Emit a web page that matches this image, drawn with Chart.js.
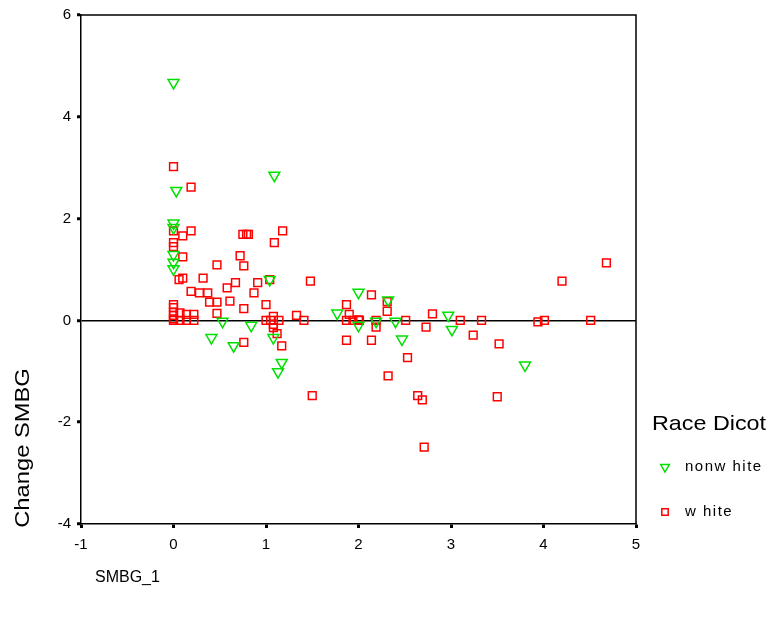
<!DOCTYPE html>
<html>
<head>
<meta charset="utf-8">
<script src="https://cdn.jsdelivr.net/npm/chart.js@4.4.1/dist/chart.umd.min.js"></script>
<style>
  html, body { margin: 0; padding: 0; background: #fff; }
  #wrap { width: 771px; height: 618px; }
</style>
</head>
<body>
<div id="wrap"><canvas id="chart" width="771" height="618"></canvas></div>
<script>
// values
const xTicks = [-1, 0, 1, 2, 3, 4, 5];
const yTicks = [-4, -2, 0, 2, 4, 6];

const nonwhiteX = [0, 0.03, 1.09, 0, 0, 0, 0, 0, 1.04, 0.53, 0.84, 0.41, 1.08, 0.65, 1.17, 1.13,
                   2.0, 2.32, 1.77, 2.0, 2.19, 2.4, 2.47, 2.97, 3.01, 3.8];
const nonwhiteY = [4.67, 2.55, 2.85, 1.91, 1.82, 1.29, 1.14, 1.01, 0.8, -0.02, -0.1, -0.34, -0.34, -0.5, -0.83, -1.01,
                   0.55, 0.4, 0.14, -0.1, -0.02, -0.02, -0.37, 0.1, -0.18, -0.88];

const whiteX = [0, 0, 0, 0, 0, 0, 0, 0, 0, 0, 0.07, 0.07, 0.14, 0.14, 0.22, 0.22,
                0.19, 0.1, 0.19, 0.75, 0.79, 0.81, 1.18, 1.09, 0.1, 0.72, 0.47, 0.76, 0.06, 0.1, 0.32,
                1.04, 1.48, 0.67, 0.91, 0.58, 0.19, 0.28, 0.37, 0.87, 0.39, 0.47, 0.61, 1.0, 0.76, 0.47,
                1.0, 1.05, 1.08, 1.14, 1.08, 1.08, 1.33, 1.41, 1.12, 0.76, 1.17, 1.5,
                2.14, 1.87, 2.31, 2.31, 1.9, 1.87, 1.94, 2.0, 2.01, 2.19, 2.19, 2.51, 1.87, 2.14, 2.53,
                2.32, 2.8, 2.73, 3.1, 3.33, 3.24, 3.52, 2.64, 2.69, 3.5, 4.68, 4.2, 4.51, 3.94, 4.01, 2.71];
const whiteY = [3.02, 1.76, 1.53, 1.45, 0.31, 0.25, 0.16, 0.1, 0.03, 0, 0.15, 0, 0.12, 0, 0.12, 0,
                2.62, 1.66, 1.76, 1.69, 1.69, 1.69, 1.76, 1.53, 1.25, 1.27, 1.09, 1.07, 0.8, 0.83, 0.83,
                0.8, 0.77, 0.74, 0.74, 0.64, 0.57, 0.54, 0.54, 0.54, 0.36, 0.36, 0.38, 0.31, 0.23, 0.14,
                0, 0, 0.08, 0, -0.08, -0.14, 0.1, 0, -0.26, -0.43, -0.5, -1.48,
                0.5, 0.31, 0.37, 0.18, 0.12, 0, 0, 0.01, 0, 0, -0.13, 0, -0.39, -0.39, -0.73,
                -1.09, 0.13, -0.13, 0, 0, -0.29, -0.46, -1.48, -1.56, -1.5, 1.13, 0.77, 0, -0.03, 0, -2.49];

const GREEN = '#00e000';
const RED = '#ff0000';
const FONT = '"Liberation Sans", Arial, sans-serif';

const toPoints = (xs, ys) => xs.map((x, i) => ({ x: x, y: ys[i] }));

// frame, axis titles and legend drawn on the canvas
const decorations = {
    id: 'decorations',
    afterDraw(chart) {
        const ctx = chart.ctx;
        const a = chart.chartArea;
        ctx.save();
        ctx.strokeStyle = '#000';
        ctx.lineWidth = 1.5;
        ctx.beginPath();
        ctx.moveTo(a.left, a.top);
        ctx.lineTo(a.right, a.top);
        ctx.lineTo(a.right, a.bottom);
        ctx.stroke();

        ctx.fillStyle = '#000';
        ctx.textBaseline = 'middle';
        ctx.textAlign = 'left';
        ctx.font = '16px ' + FONT;
        ctx.fillText('SMBG_1', 95, 578);

        // SPSS text comes out a little wide, so stretch along the text
        ctx.save();
        ctx.font = '21px ' + FONT;
        ctx.translate(23, 448);
        ctx.rotate(-Math.PI / 2);
        ctx.scale(1.13, 1);
        ctx.textAlign = 'center';
        ctx.fillText('Change SMBG', 0, 0);
        ctx.restore();

        ctx.save();
        ctx.font = '21px ' + FONT;
        ctx.translate(652, 424);
        ctx.scale(1.11, 1);
        ctx.fillText('Race Dicot', 0, 0);
        ctx.restore();

        ctx.font = '15px ' + FONT;
        ctx.letterSpacing = '1.5px';
        const rows = [[0, 467, 'nonw hite', 5], [1, 512, 'w hite', 4.5]];
        rows.forEach(([di, y, label, r]) => {
            const ds = chart.data.datasets[di];
            ctx.strokeStyle = ds.borderColor;
            ctx.fillStyle = 'rgba(0,0,0,0)';
            ctx.lineWidth = ds.borderWidth;
            Chart.helpers.drawPoint(ctx, {
                pointStyle: ds.pointStyle,
                rotation: ds.rotation || 0,
                radius: r,
                borderWidth: ds.borderWidth
            }, 665, y);
            ctx.fillStyle = '#000';
            ctx.fillText(label, 685, y);
        });
        ctx.restore();
    }
};

new Chart(document.getElementById('chart'), {
    type: 'scatter',
    data: {
        datasets: [{
            label: 'nonw hite',
            data: toPoints(nonwhiteX, nonwhiteY),
            pointStyle: 'triangle',
            rotation: 180,
            pointRadius: 6.3,
            borderWidth: 1.5,
            borderColor: GREEN,
            backgroundColor: 'rgba(0,0,0,0)'
        }, {
            label: 'w hite',
            data: toPoints(whiteX, whiteY),
            pointStyle: 'rect',
            pointRadius: 5.5,
            borderWidth: 1.5,
            borderColor: RED,
            backgroundColor: 'rgba(0,0,0,0)'
        }]
    },
    options: {
        responsive: false,
        animation: false,
        events: [],
        layout: { padding: { top: 12, right: 135, left: 0, bottom: 0 } },
        plugins: {
            legend: { display: false },
            tooltip: { enabled: false }
        },
        scales: {
            x: {
                type: 'linear',
                min: -1,
                max: 5,
                afterBuildTicks: scale => { scale.ticks = xTicks.map(v => ({ value: v })); },
                afterFit: scale => { scale.height = 94; },
                grid: { drawOnChartArea: false, tickColor: '#000', tickLength: 4, tickWidth: 3 },
                border: { color: '#000', width: 1.5 },
                ticks: { color: '#000', font: { family: FONT, size: 15 }, padding: 8 }
            },
            y: {
                type: 'linear',
                min: -4,
                max: 6,
                afterBuildTicks: scale => { scale.ticks = yTicks.map(v => ({ value: v })); },
                afterFit: scale => { scale.width = 81; },
                grid: {
                    color: c => (c.tick && c.tick.value === 0 ? '#000' : 'rgba(0,0,0,0)'),
                    lineWidth: 1.5,
                    tickColor: '#000',
                    tickLength: 4,
                    tickWidth: 3
                },
                border: { color: '#000', width: 1.5 },
                ticks: { color: '#000', font: { family: FONT, size: 15 }, padding: 6 }
            }
        }
    },
    plugins: [decorations]
});
</script>
</body>
</html>
